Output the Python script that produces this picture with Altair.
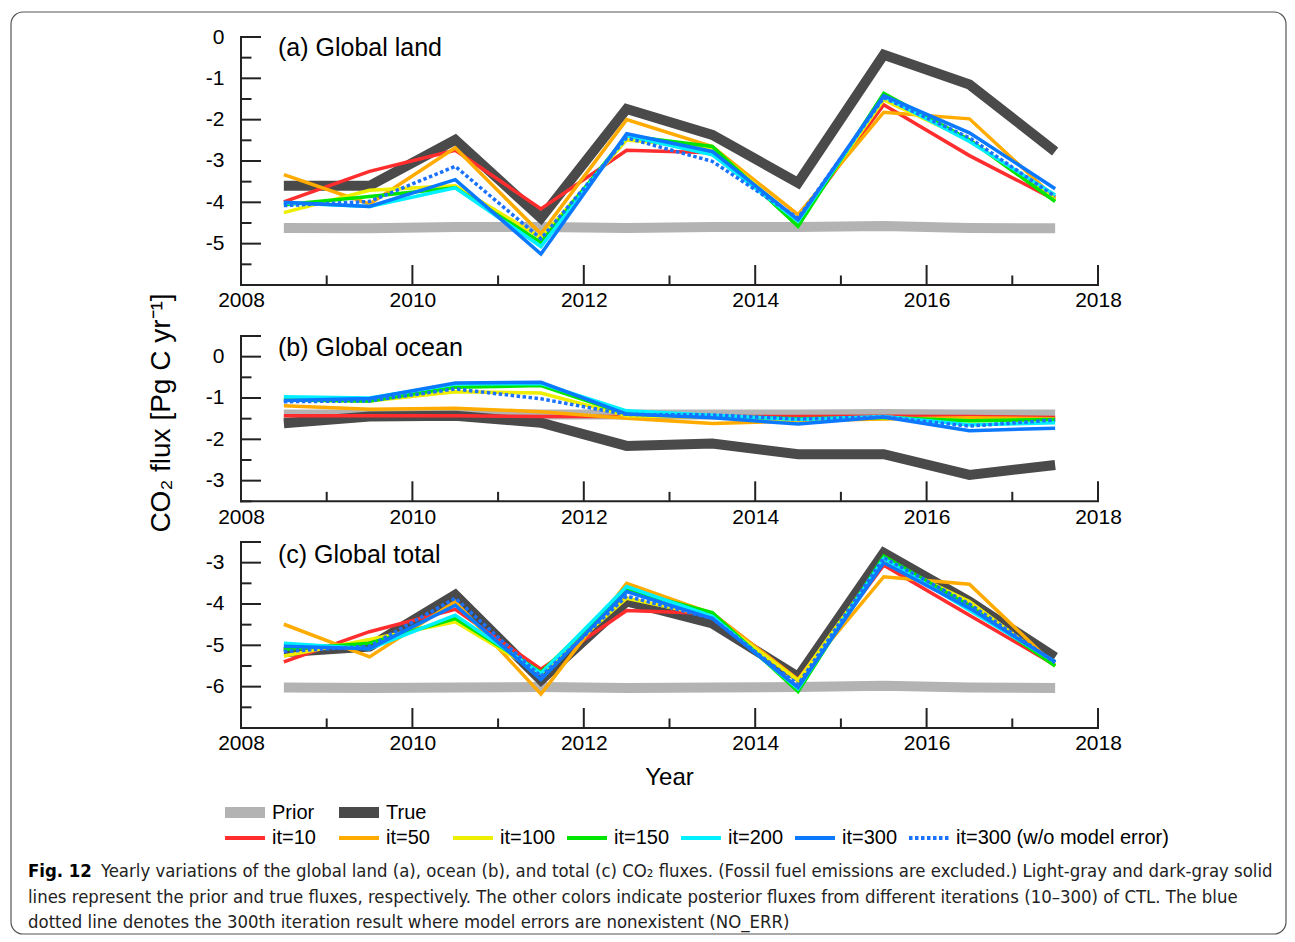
import altair as alt
import pandas as pd

# ---------------- data ----------------
YEARS = [2008.5, 2009.5, 2010.5, 2011.5, 2012.5, 2013.5, 2014.5, 2015.5, 2016.5, 2017.5]
SERIES = ["Prior", "True", "it=10", "it=50", "it=100", "it=150", "it=200", "it=300",
          "it=300 (w/o model error)"]

LAND = {
    "Prior": [-4.62, -4.63, -4.60, -4.60, -4.62, -4.60, -4.60, -4.57, -4.62, -4.63],
    "True": [-3.60, -3.60, -2.49, -4.38, -1.74, -2.37, -3.53, -0.43, -1.15, -2.77],
    "it=10": [-3.99, -3.25, -2.74, -4.16, -2.74, -2.80, -4.46, -1.64, -2.87, -3.94],
    "it=50": [-3.33, -4.04, -2.68, -4.76, -2.00, -2.65, -4.30, -1.82, -1.98, -3.90],
    "it=100": [-4.25, -3.71, -3.60, -4.86, -2.49, -2.68, -4.46, -1.52, -2.49, -3.94],
    "it=150": [-4.06, -3.86, -3.65, -4.97, -2.39, -2.65, -4.58, -1.36, -2.49, -3.98],
    "it=200": [-4.01, -4.10, -3.65, -5.07, -2.39, -2.85, -4.46, -1.44, -2.53, -3.82],
    "it=300": [-4.00, -4.10, -3.45, -5.25, -2.34, -2.77, -4.42, -1.42, -2.32, -3.67],
    "it=300 (w/o model error)": [-4.08, -3.98, -3.13, -4.88, -2.44, -3.01, -4.38, -1.47, -2.44, -3.86],
}
OCEAN = {
    "Prior": [-1.40, -1.40, -1.39, -1.40, -1.40, -1.40, -1.40, -1.39, -1.40, -1.40],
    "True": [-1.61, -1.45, -1.43, -1.60, -2.16, -2.10, -2.36, -2.36, -2.86, -2.62],
    "it=10": [-1.43, -1.43, -1.43, -1.45, -1.45, -1.45, -1.45, -1.44, -1.45, -1.47],
    "it=50": [-1.19, -1.27, -1.25, -1.33, -1.49, -1.62, -1.55, -1.51, -1.48, -1.50],
    "it=100": [-1.04, -1.07, -0.85, -0.88, -1.43, -1.47, -1.52, -1.48, -1.55, -1.53],
    "it=150": [-1.05, -1.07, -0.74, -0.70, -1.39, -1.45, -1.50, -1.47, -1.55, -1.52],
    "it=200": [-0.97, -1.00, -0.66, -0.65, -1.31, -1.42, -1.52, -1.45, -1.65, -1.60],
    "it=300": [-1.06, -1.01, -0.64, -0.62, -1.39, -1.48, -1.63, -1.46, -1.79, -1.73],
    "it=300 (w/o model error)": [-1.09, -1.07, -0.78, -1.02, -1.40, -1.41, -1.51, -1.46, -1.68, -1.53],
}
TOTAL = {
    "Prior": [-6.02, -6.03, -6.02, -6.01, -6.03, -6.02, -6.01, -5.98, -6.02, -6.03],
    "True": [-5.17, -5.03, -3.78, -5.84, -3.94, -4.47, -5.76, -2.76, -3.94, -5.29],
    "it=10": [-5.40, -4.67, -4.13, -5.58, -4.16, -4.23, -5.83, -3.06, -4.27, -5.48],
    "it=50": [-4.49, -5.28, -3.94, -6.18, -3.50, -4.23, -5.83, -3.34, -3.52, -5.50],
    "it=100": [-5.26, -4.86, -4.43, -5.68, -3.86, -4.30, -5.85, -2.94, -3.94, -5.48],
    "it=150": [-5.10, -4.95, -4.35, -5.65, -3.66, -4.21, -6.12, -2.84, -4.05, -5.50],
    "it=200": [-4.95, -5.08, -4.27, -5.68, -3.58, -4.30, -6.05, -2.90, -4.15, -5.40],
    "it=300": [-5.02, -5.08, -4.03, -5.83, -3.70, -4.35, -6.02, -3.00, -4.10, -5.40],
    "it=300 (w/o model error)": [-5.15, -5.02, -3.86, -5.75, -3.81, -4.35, -5.95, -2.88, -4.00, -5.42],
}

X_MAJOR = [2008, 2010, 2012, 2014, 2016, 2018]
X_MINOR = [2009, 2011, 2013, 2015, 2017]
LAND_Y = [0, -1, -2, -3, -4, -5]
OCEAN_Y = [0, -1, -2, -3]
TOTAL_Y = [-3, -4, -5, -6]

PANEL_TITLES = ["(a) Global land", "(b) Global ocean", "(c) Global total"]
Y_TITLE = "CO\u2082 flux [Pg C yr\u207b\u00b9]"
X_TITLE = "Year"
CAPTION_BOLD = "Fig. 12"
CAPTION = [
    "Yearly variations of the global land (a), ocean (b), and total (c) CO\u2082 fluxes. (Fossil fuel emissions are excluded.) Light-gray and dark-gray solid",
    "lines represent the prior and true fluxes, respectively. The other colors indicate posterior fluxes from different iterations (10\u2013300) of CTL. The blue",
    "dotted line denotes the 300th iteration result where model errors are nonexistent (NO_ERR)",
]

# ---------------- style ----------------
COLORS = ["#b3b3b3", "#4a4a4a", "#ff2d2d", "#ffab00", "#eeee00", "#00e600",
          "#00f0ff", "#0a78ff", "#1a72ff"]
WIDTHS = [10, 10, 3.5, 3.5, 3.5, 3.5, 3.5, 3.5, 3.5]
FONT = "Liberation Sans, Arial, Helvetica, sans-serif"
CAP_FONT = "Liberation Sans Narrow, DejaVu Sans Condensed, Arial Narrow, sans-serif"
AX = "#222222"
K = 41.33          # pixels per Pg C / yr
W = 857            # plot width
SPACING = 40.5


def make_df(vals):
    rows = []
    for s in SERIES:
        for yr, v in zip(YEARS, vals[s]):
            rows.append({"series": s, "year": yr, "value": v})
    return pd.DataFrame(rows)


def panel(idx, vals, ymin, ymax, ylabels, top_ext=0.0, title_y=11.0, extra=None):
    h = (ymax - ymin) * K + top_ext
    dom_top = ymax + top_ext / K
    xscale = alt.Scale(domain=[2008, 2018], nice=False, zero=False)
    yscale = alt.Scale(domain=[ymin, dom_top], nice=False, zero=False)
    xaxis = alt.Axis(values=X_MAJOR, format="d", ticks=False, domain=False, grid=False,
                     labelFont=FONT, labelFontSize=21, labelColor="black", labelPadding=5,
                     labelFlush=False, labelOverlap=False, title=None)
    yaxis = alt.Axis(values=ylabels, ticks=False, domain=False, grid=False,
                     labelFont=FONT, labelFontSize=21, labelColor="black", labelPadding=17,
                     labelFlush=False, labelOverlap=False, title=None,
                     labelExpr="datum.value == 0 ? '0' : '-' + abs(datum.value)")
    df = make_df(vals)
    layers = []
    for i, s in enumerate(SERIES):
        mk = dict(color=COLORS[i], strokeWidth=WIDTHS[i], strokeJoin="miter", strokeMiterLimit=10)
        if i == len(SERIES) - 1:
            mk["strokeDash"] = [3.5, 2.5]
        layers.append(
            alt.Chart(df).transform_filter(alt.datum.series == s).mark_line(**mk).encode(
                x=alt.X("year:Q", scale=xscale, axis=xaxis),
                y=alt.Y("value:Q", scale=yscale, axis=yaxis),
            )
        )
    # axis lines
    layers.append(
        alt.Chart(pd.DataFrame({"lo": [ymin], "hi": [ymax]})).mark_rule(
            color=AX, strokeWidth=2, strokeCap="square").encode(
            x=alt.value(0), y=alt.Y("hi:Q", scale=yscale, axis=yaxis), y2="lo:Q")
    )
    layers.append(
        alt.Chart(pd.DataFrame({"lo": [2008], "hi": [2018]})).mark_rule(
            color=AX, strokeWidth=2, strokeCap="square").encode(
            y=alt.value(h), x=alt.X("lo:Q", scale=xscale, axis=xaxis), x2="hi:Q")
    )
    # inward ticks
    layers.append(
        alt.Chart(pd.DataFrame({"t": X_MAJOR})).mark_rule(color=AX, strokeWidth=2).encode(
            x=alt.X("t:Q", scale=xscale, axis=xaxis), y=alt.value(h), y2=alt.value(h - 20))
    )
    layers.append(
        alt.Chart(pd.DataFrame({"t": X_MINOR})).mark_rule(color=AX, strokeWidth=2).encode(
            x=alt.X("t:Q", scale=xscale, axis=xaxis), y=alt.value(h), y2=alt.value(h - 9.5))
    )
    lo = int(round(ymin))
    hi_int = int(ymax) if ymax == int(ymax) else int(ymax - 0.5)
    y_major = list(range(lo + 1, hi_int + 1))
    if ymax != int(ymax):
        y_major.append(ymax)
    y_minor = [v + 0.5 for v in range(lo, hi_int)]
    layers.append(
        alt.Chart(pd.DataFrame({"t": y_major})).mark_rule(color=AX, strokeWidth=2).encode(
            y=alt.Y("t:Q", scale=yscale, axis=yaxis), x=alt.value(0), x2=alt.value(20))
    )
    layers.append(
        alt.Chart(pd.DataFrame({"t": y_minor})).mark_rule(color=AX, strokeWidth=2).encode(
            y=alt.Y("t:Q", scale=yscale, axis=yaxis), x=alt.value(0), x2=alt.value(10.5))
    )
    # panel title
    layers.append(
        alt.Chart(pd.DataFrame({"t": [PANEL_TITLES[idx]]})).mark_text(
            align="left", baseline="middle", font=FONT, fontSize=25, color="black").encode(
            text="t:N", x=alt.value(37), y=alt.value(title_y))
    )
    if extra:
        layers.extend(extra)
    return alt.layer(*layers).properties(width=W, height=h)


# y-axis title (in panel b)
ytitle = alt.Chart(pd.DataFrame({"t": [Y_TITLE]})).mark_text(
    angle=270, align="center", baseline="middle", font=FONT, fontSize=28, color="black").encode(
    text="t:N", x=alt.value(-79), y=alt.value(87.5))

# bottom panel extras: x title, legend, caption, frame
extra_c = []
extra_c.append(
    alt.Chart(pd.DataFrame({"t": [X_TITLE]})).mark_text(
        align="center", baseline="middle", font=FONT, fontSize=24, color="black").encode(
        text="t:N", x=alt.value(W / 2), y=alt.value(236))
)
LEG_X0, LEG_STEP, LEG_ROWS = -16, 114, [270.5, 296]
for i, s in enumerate(SERIES):
    row = 0 if i < 2 else 1
    col = i if i < 2 else i - 2
    x0 = LEG_X0 + col * LEG_STEP
    yy = LEG_ROWS[row]
    mk = dict(color=COLORS[i], strokeWidth=11 if row == 0 else 4)
    if i == len(SERIES) - 1:
        mk["strokeDash"] = [3.5, 2.5]
    extra_c.append(
        alt.Chart(pd.DataFrame({"t": [s]})).mark_rule(**mk).encode(
            x=alt.value(x0), x2=alt.value(x0 + 40), y=alt.value(yy))
    )
    extra_c.append(
        alt.Chart(pd.DataFrame({"t": [s]})).mark_text(
            align="left", baseline="middle", font=FONT, fontSize=20, color="black").encode(
            text="t:N", x=alt.value(x0 + 47), y=alt.value(yy))
    )
extra_c.append(
    alt.Chart(pd.DataFrame({"t": [CAPTION_BOLD]})).mark_text(
        align="left", baseline="middle", font=CAP_FONT, fontSize=18.4, fontWeight="bold",
        color="black").encode(text="t:N", x=alt.value(-213), y=alt.value(329))
)
for j, line in enumerate(CAPTION):
    extra_c.append(
        alt.Chart(pd.DataFrame({"t": [line]})).mark_text(
            align="left", baseline="middle", font=CAP_FONT, fontSize=18.4, color="#222222").encode(
            text="t:N", x=alt.value(-140 if j == 0 else -213), y=alt.value(329 + 25.5 * j))
    )
extra_c.append(
    alt.Chart(pd.DataFrame({"t": [0]})).mark_rect(
        filled=False, stroke="#555555", strokeWidth=1.2, cornerRadius=12).encode(
        x=alt.value(-230), x2=alt.value(1045), y=alt.value(-530), y2=alt.value(392))
)

pa = panel(0, LAND, -6, 0, LAND_Y, title_y=11)
pb = panel(1, OCEAN, -3.5, 0.5, OCEAN_Y, top_ext=10.5, title_y=22.5, extra=[ytitle])
pc = panel(2, TOTAL, -7, -2.5, TOTAL_Y, title_y=12.5, extra=extra_c)

chart = alt.vconcat(pa, pb, pc, spacing=SPACING, bounds="flush").properties(
    padding={"left": 2, "top": -4, "right": 0, "bottom": 0}
).configure_view(strokeWidth=0)

chart.save("out.html", embed_options={"renderer": "svg", "actions": False})
